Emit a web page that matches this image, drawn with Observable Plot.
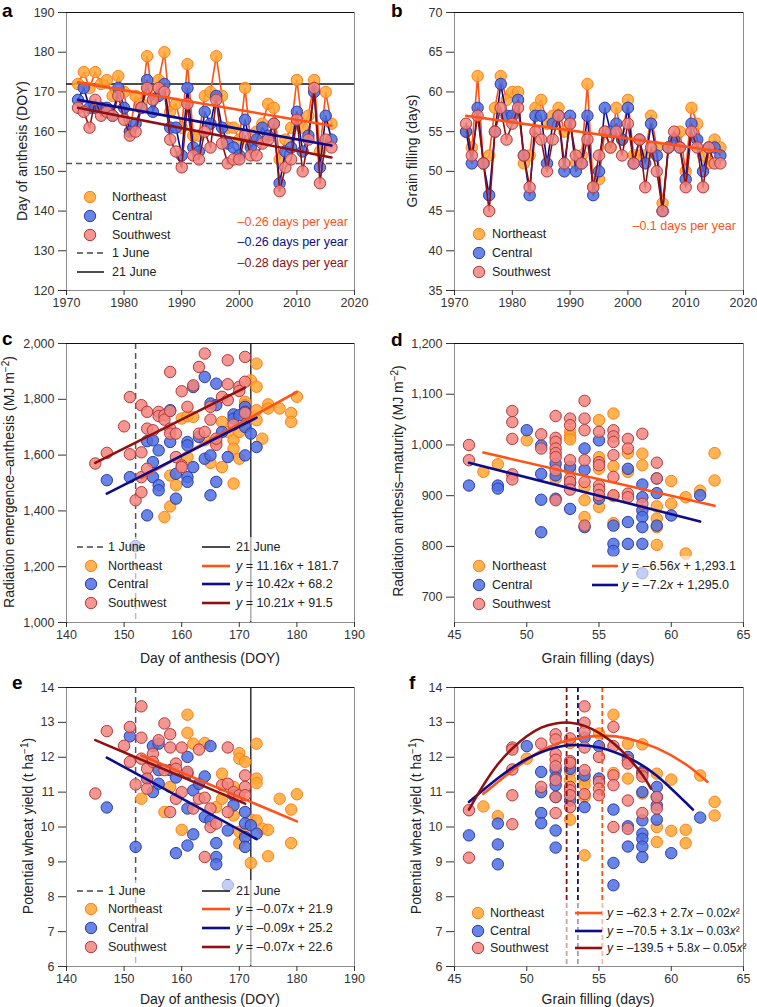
<!DOCTYPE html>
<html><head><meta charset="utf-8">
<script src="https://cdn.jsdelivr.net/npm/d3@7"></script>
<script src="https://cdn.jsdelivr.net/npm/@observablehq/plot@0.6"></script>
<style>
body{margin:0;background:#fff;}
#root{position:relative;width:757px;height:1007px;overflow:hidden;background:#fff;}
.letter{position:absolute;font-family:"Liberation Sans",Arial,sans-serif;font-weight:bold;font-size:19px;line-height:19px;color:#000;}
</style></head>
<body><div id="root"></div>
<script>
const FONT = '"Liberation Sans", Arial, Helvetica, sans-serif';
// ---------- data ----------
const regions = ["Northeast", "Central", "Southwest"];
const years = [1972,1973,1974,1975,1976,1977,1978,1979,1980,1981,1982,1983,1984,1985,1986,1987,1988,1989,1990,1991,1992,1993,1994,1995,1996,1997,1998,1999,2000,2001,2002,2003,2004,2005,2006,2007,2008,2009,2010,2011,2012,2013,2014,2015,2016];
const JUNE1 = 152, JUNE21 = 172;
// panel a: day of anthesis (DOY)
const anthNE = [172,175,171,175,172,173,169,174,170,160,169,167,179,168,173,180,165,167,161,177,159,159,169,170,179,169,161,161,158,171,157,160,162,167,166,153,158,161,173,161,164,173,155,170,162];
const anthCE = [168,171,166,166,166,166,164,171,166,160,162,166,173,165,169,172,161,161,154,171,156,155,165,162,169,161,157,156,154,163,156,158,161,159,162,147,155,156,165,155,159,170,151,164,158];
const anthSW = [166,165,161,168,164,165,164,169,163,159,160,166,171,168,171,170,158,155,151,167,154,153,160,156,168,157,152,153,153,159,154,154,157,158,162,145,151,153,163,150,158,171,147,158,156];
const trendA_NE = [[1972,172.4],[2016,161.5]];
const trendA_CE = [[1972,168.0],[2016,156.5]];
const trendA_SW = [[1972,166.0],[2016,153.5]];
const slopeA = ["\u20130.26 days per year","\u20130.26 days per year","\u20130.28 days per year"];
// panel b: grain filling (days)
const gfNE = [55,53,62,51,52,58,62,59,60,60,51,52,58,59,56,57,58,55,56,51,52,61,48,49,55,53,58,54,59,52,52,52,57,53,46,53,54,55,50,58,56,52,51,54,53];
const gfCE = [55,51,58,51,47,55,61,57,57,59,52,47,57,57,51,56,57,50,57,50,51,57,47,50,58,55,56,54,58,51,54,51,56,52,45,53,54,53,49,56,54,50,53,53,52];
const gfSW = [56,52,57,51,45,55,58,54,56,58,52,48,55,54,50,54,57,51,56,52,51,54,48,52,55,53,55,52,56,51,54,48,53,50,45,53,55,53,48,55,53,48,53,51,51];
const trendB_NE = [[1972,57.0],[2016,52.5]];
const slopeB = "\u20130.1 days per year";
// panel c: radiation emergence-anthesis vs anthesis DOY
const radEA_NE = [[157,1378],[158,1416],[158,1527],[159,1492],[160,1731],[161,1593],[161,1739],[162,1737],[164,1653],[165,1572],[166,1647],[167,1557],[167,1719],[168,1683],[169,1653],[169,1623],[169,1498],[170,1587],[170,1683],[171,1791],[171,1779],[171,1707],[172,1868],[172,1743],[173,1928],[173,1845],[173,1761],[173,1725],[174,1659],[175,1782],[175,1767],[177,1767],[179,1751],[179,1719],[180,1809]];
const radEA_CE = [[147,1510],[151,1521],[152,1274],[154,1384],[154,1650],[155,1653],[155,1575],[155,1521],[156,1617],[156,1492],[156,1474],[158,1761],[158,1647],[159,1533],[159,1444],[161,1647],[161,1635],[161,1521],[161,1504],[162,1844],[162,1557],[163,1665],[164,1880],[164,1587],[165,1599],[165,1456],[165,1785],[166,1856],[166,1779],[166,1504],[167,1683],[168,1593],[169,1746],[169,1731],[170,1743],[171,1773],[171,1755],[171,1701],[171,1599],[172,1677],[173,1629]];
const radEA_SW = [[145,1570],[147,1608],[150,1703],[151,1808],[151,1603],[152,1438],[153,1467],[153,1521],[153,1610],[153,1779],[154,1755],[154,1695],[154,1551],[155,1689],[156,1755],[156,1740],[157,1743],[157,1727],[158,1898],[158,1695],[158,1677],[158,1758],[159,1593],[159,1677],[160,1829],[160,1563],[160,1557],[161,1773],[162,1850],[163,1916],[163,1677],[164,1964],[164,1683],[165,1727],[165,1773],[166,1637],[166,1659],[167,1809],[168,1940],[168,1854],[168,1797],[169,1709],[170,1845],[170,1830],[171,1952],[171,1863],[171,1751]];
const trendC_NE = [[153,1518],[180,1827]];
const trendC_CE = [[147,1462],[173,1734]];
const trendC_SW = [[145,1572],[171,1842]];
const eqC = ["*y* = 11.16*x* + 181.7","*y* = 10.42*x* + 68.2","*y* = 10.21*x* + 91.5"];
// panel d: radiation anthesis-maturity vs grain filling
const radAM_NE = [[47,947],[48,962],[50,1009],[52,934],[53,1026],[53,1017],[53,1011],[53,950],[54,917],[54,891],[54,858],[55,1049],[55,976],[55,953],[55,878],[56,1062],[56,958],[56,899],[56,846],[57,984],[57,947],[58,983],[58,960],[59,879],[59,855],[59,838],[59,803],[60,929],[60,884],[61,897],[61,786],[62,910],[63,984],[63,930]];
const radAM_CE = [[46,920],[48,920],[48,914],[50,1029],[51,999],[51,943],[51,892],[51,828],[52,963],[52,940],[52,894],[53,957],[53,924],[53,874],[54,993],[54,951],[54,838],[55,1009],[55,894],[56,841],[56,805],[56,791],[57,953],[57,848],[57,805],[58,922],[58,897],[58,871],[58,858],[58,838],[58,805],[58,747],[59,905],[59,841],[59,934],[60,861],[62,901]];
const radAM_SW = [[46,1000],[46,970],[49,1067],[49,1045],[49,1012],[49,942],[49,932],[51,1021],[51,993],[52,1057],[52,1014],[52,1006],[52,993],[52,984],[52,976],[52,950],[52,891],[53,1052],[53,1039],[53,970],[53,934],[53,927],[53,912],[54,1087],[54,1052],[54,1029],[54,970],[54,927],[54,841],[55,1026],[55,966],[55,960],[55,920],[55,912],[55,901],[56,1029],[56,1017],[56,1006],[56,980],[56,937],[56,901],[57,1012],[57,993],[57,904],[57,897],[58,1022],[58,884],[59,965],[59,934]];
const trendD_NE = [[47,985],[63,880]];
const trendD_CE = [[46,965],[62,849]];
const eqD = ["*y* = \u20136.56*x* + 1,293.1","*y* = \u20137.2*x* + 1,295.0"];
// panel e: yield vs anthesis DOY
const yieldA_NE = [[153,10.81],[157,10.43],[158,11.15],[160,9.92],[161,13.22],[161,12.7],[162,12.39],[164,12.41],[166,10.57],[167,11.53],[167,10.81],[169,11.15],[169,10.33],[170,12.12],[170,11.96],[170,9.86],[170,9.54],[171,11.87],[171,9.86],[172,10.21],[172,8.97],[173,12.39],[173,11.39],[173,11.26],[173,10.19],[174,9.95],[175,9.92],[175,9.16],[177,10.81],[179,10.5],[179,9.54],[180,10.94]];
const yieldA_CE = [[147,10.56],[151,12.6],[152,9.43],[154,11.39],[155,12.32],[155,11.0],[156,12.39],[156,11.63],[156,11.24],[158,11.63],[159,11.42],[159,9.25],[161,12.01],[161,11.53],[161,10.53],[161,9.47],[162,11.05],[162,9.79],[163,11.24],[164,11.45],[164,10.29],[165,12.32],[165,10.19],[166,9.54],[166,9.14],[166,8.93],[168,9.9],[168,8.33],[169,10.91],[169,10.62],[171,10.43],[171,10.1],[171,9.71],[171,9.43],[172,10.05],[173,9.81]];
const yieldA_SW = [[145,10.96],[147,12.75],[150,12.33],[151,12.87],[151,11.87],[152,11.22],[153,13.46],[153,12.56],[153,11.96],[154,11.67],[154,11.39],[154,11.1],[155,12.1],[155,11.87],[156,12.49],[157,12.97],[157,11.63],[158,12.66],[158,12.28],[158,10.43],[159,11.82],[159,11.67],[159,10.81],[160,12.28],[160,11.0],[161,11.58],[162,10.53],[163,12.22],[163,10.81],[164,10.84],[164,9.14],[165,10.53],[165,10.0],[166,10.1],[167,11.2],[168,12.28],[168,11.24],[168,10.43],[169,11.0],[170,10.91],[171,11.48],[171,11.15],[171,10.91]];
const trendE_NE = [[153,12.05],[180,10.16]];
const trendE_CE = [[147,11.99],[173,9.65]];
const trendE_SW = [[145,12.49],[171,10.67]];
const eqE = ["*y* = \u20130.07*x* + 21.9","*y* = \u20130.09*x* + 25.2","*y* = \u20130.07*x* + 22.6"];
// panel f: yield vs grain filling
const yieldG_NE = [[47,10.59],[48,10.31],[50,11.96],[53,12.41],[53,11.58],[53,11.34],[53,10.21],[54,11.34],[54,11.2],[54,10.86],[54,9.19],[55,12.68],[56,13.22],[56,11.55],[57,12.39],[57,11.39],[58,12.37],[58,10.96],[59,11.53],[59,10.0],[59,9.57],[60,11.36],[60,9.89],[61,9.92],[61,9.54],[62,11.48],[63,10.72],[63,10.33]];
const yieldG_CE = [[46,9.76],[48,10.1],[48,9.5],[48,8.93],[50,12.32],[51,11.58],[51,11.0],[51,10.4],[51,10.11],[52,11.63],[52,11.42],[52,11.2],[52,10.86],[52,9.9],[52,9.41],[53,11.67],[53,10.76],[54,12.56],[54,11.48],[54,10.57],[55,12.32],[55,11.39],[56,10.5],[56,8.97],[56,8.33],[57,12.01],[57,10.02],[57,9.44],[58,11.58],[58,11.0],[58,10.19],[58,9.81],[58,9.66],[58,9.44],[58,9.14],[59,11.15],[59,10.86],[59,10.62],[59,10.21],[60,9.25],[62,10.27]];
const yieldG_SW = [[46,10.48],[46,9.12],[49,12.28],[49,12.22],[49,11.65],[49,10.91],[49,10.08],[51,12.39],[51,11.15],[52,12.66],[52,12.51],[52,12.09],[52,11.93],[52,11.74],[52,11.35],[52,10.86],[52,10.4],[53,12.54],[53,11.89],[53,11.84],[53,11.15],[53,11.05],[53,10.91],[53,10.57],[54,13.46],[54,12.99],[54,12.73],[54,12.28],[54,11.63],[54,10.94],[55,12.01],[55,11.29],[55,11.1],[55,10.91],[56,12.87],[56,12.32],[56,11.48],[56,11.2],[56,10.0],[57,11.91],[57,11.82],[57,10.76],[57,9.95],[58,11.53],[58,11.45],[58,10.4],[59,10.86],[59,10.53]];
const fitF_NE = [[47,10.95],[49,11.62],[51,12.18],[53,12.5],[55.2,12.62],[57,12.54],[59,12.26],[61,11.8],[62.5,11.3]];
const fitF_CE = [[46,10.72],[48,11.4],[50,11.95],[52,12.28],[53.5,12.35],[55,12.28],[57,11.99],[59,11.47],[61.5,10.5]];
const fitF_SW = [[46,10.5],[47,11.2],[48,11.8],[49,12.25],[50,12.6],[51,12.85],[52,12.97],[53,12.99],[54,12.9],[55,12.7],[56,12.4],[57,12.0],[58,11.5],[58.6,11.1]];
const optF = [55.23, 53.54, 52.76];
const eqF = ["*y* = \u201362.3 + 2.7*x* \u2013 0.02*x*\u00b2","*y* = \u201370.5 + 3.1*x* \u2013 0.03*x*\u00b2","*y* = \u2013139.5 + 5.8*x* \u2013 0.05*x*\u00b2"];

// ---------- styles ----------
const dotFill = {Northeast:"#FFA733", Central:"#4F6FE3", Southwest:"#F2857F"};
const dotStroke = {Northeast:"#FF7F1E", Central:"#2B3DA8", Southwest:"#B23A3A"};
const lineColor = {Northeast:"#FF5214", Central:"#0C0C8C", Southwest:"#8F1010"};
const R = 5.7;

const root = document.getElementById("root");
const toRows = (pairs) => pairs.map(([x,y]) => ({x, y}));
const yearRows = (arr) => years.map((yr,i) => ({x: yr, y: arr[i]}));

function dots(rows, reg){
  return Plot.dot(rows, {x:"x", y:"y", r:R, fill:dotFill[reg], fillOpacity:0.85, stroke:dotStroke[reg], strokeWidth:1});
}
function trend(pairs, reg, opts={}){
  return Plot.line(toRows(pairs), {x:"x", y:"y", stroke:lineColor[reg], strokeWidth:2.6, ...opts});
}

function makePanel({left, top, width, height, frame, xDomain, yDomain, xTicks, yTicks, xFormat, yFormat, marks}){
  const [fl, ft, fr, fb] = frame;
  const svg = Plot.plot({
    width, height,
    marginLeft: fl-left, marginTop: ft-top, marginRight: left+width-fr, marginBottom: top+height-fb,
    style: {fontFamily: FONT, fontSize: "12.5px", color: "#333", background: "none", overflow: "visible"},
    x: {type:"linear", domain: xDomain},
    y: {type:"linear", domain: yDomain},
    marks: [
      Plot.frame({stroke:"#8c8c8c", strokeWidth:1}),
      ...marks,
      Plot.ruleY([yDomain[1]], {stroke:"#111", strokeWidth:1}),
      Plot.axisX({ticks:xTicks, tickFormat:xFormat, tickSize:5, tickPadding:3, label:null}),
      Plot.axisY({ticks:yTicks, tickFormat:yFormat, tickSize:8, tickPadding:4, label:null})
    ]
  });
  svg.style.position = "absolute";
  svg.style.left = left + "px";
  svg.style.top = top + "px";
  root.appendChild(svg);
}
const plain = d => String(d);
const comma = d3.format(",");

// panel a
makePanel({left:0, top:0, width:378, height:320, frame:[66,12,354,290],
  xDomain:[1970,2020], yDomain:[120,190], xTicks:[1970,1980,1990,2000,2010,2020], yTicks:[120,130,140,150,160,170,180,190], xFormat:plain, yFormat:plain,
  marks:[
    Plot.ruleY([JUNE1], {stroke:"#555", strokeWidth:1.5, strokeDasharray:"6,4"}),
    Plot.ruleY([JUNE21], {stroke:"#111", strokeWidth:1.3}),
    ...[["Northeast",anthNE],["Central",anthCE],["Southwest",anthSW]].flatMap(([reg,arr]) => [
      Plot.line(yearRows(arr), {x:"x", y:"y", stroke:lineColor[reg], strokeWidth:1.6}),
      dots(yearRows(arr), reg)
    ]),
    trend(trendA_NE,"Northeast"), trend(trendA_CE,"Central"), trend(trendA_SW,"Southwest")
  ]});
// panel b
makePanel({left:378, top:0, width:379, height:320, frame:[454,12,743,290],
  xDomain:[1970,2020], yDomain:[35,70], xTicks:[1970,1980,1990,2000,2010,2020], yTicks:[35,40,45,50,55,60,65,70], xFormat:plain, yFormat:plain,
  marks:[
    ...[["Northeast",gfNE],["Central",gfCE],["Southwest",gfSW]].flatMap(([reg,arr]) => [
      Plot.line(yearRows(arr), {x:"x", y:"y", stroke:lineColor[reg], strokeWidth:1.6}),
      dots(yearRows(arr), reg)
    ]),
    trend(trendB_NE,"Northeast")
  ]});
// panel c
makePanel({left:0, top:330, width:378, height:320, frame:[66,343,354,622],
  xDomain:[140,190], yDomain:[1000,2000], xTicks:[140,150,160,170,180,190], yTicks:[1000,1200,1400,1600,1800,2000], xFormat:plain, yFormat:comma,
  marks:[
    Plot.ruleX([JUNE1], {stroke:"#555", strokeWidth:1.5, strokeDasharray:"6,4"}),
    Plot.ruleX([JUNE21], {stroke:"#111", strokeWidth:1.3}),
    dots(toRows(radEA_NE),"Northeast"), dots(toRows(radEA_CE),"Central"), dots(toRows(radEA_SW),"Southwest"),
    trend(trendC_NE,"Northeast"), trend(trendC_CE,"Central"), trend(trendC_SW,"Southwest")
  ]});
// panel d
makePanel({left:378, top:330, width:379, height:320, frame:[454,343,743,622],
  xDomain:[45,65], yDomain:[650,1200], xTicks:[45,50,55,60,65], yTicks:[700,800,900,1000,1100,1200], xFormat:plain, yFormat:comma,
  marks:[
    dots(toRows(radAM_NE),"Northeast"), dots(toRows(radAM_CE),"Central"), dots(toRows(radAM_SW),"Southwest"),
    trend(trendD_NE,"Northeast"), trend(trendD_CE,"Central")
  ]});
// panel e
makePanel({left:0, top:670, width:378, height:337, frame:[66,687,354,966],
  xDomain:[140,190], yDomain:[6,14], xTicks:[140,150,160,170,180,190], yTicks:[6,7,8,9,10,11,12,13,14], xFormat:plain, yFormat:plain,
  marks:[
    Plot.ruleX([JUNE1], {stroke:"#555", strokeWidth:1.5, strokeDasharray:"6,4"}),
    Plot.ruleX([JUNE21], {stroke:"#111", strokeWidth:1.3}),
    dots(toRows(yieldA_NE),"Northeast"), dots(toRows(yieldA_CE),"Central"), dots(toRows(yieldA_SW),"Southwest"),
    trend(trendE_NE,"Northeast"), trend(trendE_CE,"Central"), trend(trendE_SW,"Southwest")
  ]});
// panel f
makePanel({left:378, top:670, width:379, height:337, frame:[454,687,743,966],
  xDomain:[45,65], yDomain:[6,14], xTicks:[45,50,55,60,65], yTicks:[6,7,8,9,10,11,12,13,14], xFormat:plain, yFormat:plain,
  marks:[
    dots(toRows(yieldG_NE),"Northeast"), dots(toRows(yieldG_CE),"Central"), dots(toRows(yieldG_SW),"Southwest"),
    ...regions.map((reg,i) => Plot.ruleX([optF[i]], {stroke:lineColor[reg], strokeWidth:1.8, strokeDasharray:"5,3"})),
    trend(fitF_NE,"Northeast",{curve:"natural"}), trend(fitF_CE,"Central",{curve:"natural"}), trend(fitF_SW,"Southwest",{curve:"natural"})
  ]});

// ---------- overlay: legends, labels ----------
const ov = d3.select(root).append("svg").attr("width",757).attr("height",1007)
  .style("position","absolute").style("left","0px").style("top","0px").style("font-family",FONT);

function bg(x,y,w,h){ ov.append("rect").attr("x",x).attr("y",y).attr("width",w).attr("height",h).attr("fill","#fff").attr("fill-opacity",0.6); }
function richText(x, y, str, opts={}){
  const t = ov.append("text").attr("x",x).attr("y",y).attr("dy","0.35em")
    .attr("font-size", opts.size || 12.5).attr("fill", opts.fill || "#222")
    .attr("text-anchor", opts.anchor || "start");
  str.split("*").forEach((seg,i) => { if (seg) t.append("tspan").attr("font-style", i%2 ? "italic" : "normal").text(seg); });
  return t;
}
function dotItem(cx, cy, reg, tx){
  ov.append("circle").attr("cx",cx).attr("cy",cy).attr("r",R).attr("fill",dotFill[reg]).attr("fill-opacity",0.85).attr("stroke",dotStroke[reg]).attr("stroke-width",1);
  richText(tx, cy, reg);
}
function lineItem(x1, x2, y, color, width, dash, label, tx, size){
  const l = ov.append("line").attr("x1",x1).attr("x2",x2).attr("y1",y).attr("y2",y).attr("stroke",color).attr("stroke-width",width);
  if (dash) l.attr("stroke-dasharray",dash);
  richText(tx, y, label, {size});
}
function yLabel(cx, cy, parts){
  const t = ov.append("text").attr("transform",`translate(${cx},${cy}) rotate(-90)`).attr("text-anchor","middle").attr("dy","0.35em").attr("font-size",14).attr("fill","#222");
  parts.forEach(p => { if (typeof p === "string") t.append("tspan").text(p); else t.append("tspan").attr("dy",p.dy).attr("font-size",p.size||14).text(p.t); });
}
function xLabel(cx, cy, s){ ov.append("text").attr("x",cx).attr("y",cy).attr("dy","0.35em").attr("text-anchor","middle").attr("font-size",14).attr("fill","#222").text(s); }

// panel a legend
regions.forEach((reg,i) => dotItem(90, [197,216,235][i], reg, 112));
lineItem(77,104,253,"#444",1.5,"6,4","1 June",112);
lineItem(77,104,272,"#111",1.5,null,"21 June",112);
regions.forEach((reg,i) => richText(348, [222,242,263][i], slopeA[i], {anchor:"end", fill:lineColor[reg]}));
// panel b legend
regions.forEach((reg,i) => dotItem(479, [234,253,272][i], reg, 492));
richText(736, 226, slopeB, {anchor:"end", fill:lineColor.Northeast});
// panel c legend
bg(74,537,258,84);
lineItem(77,103,547,"#444",1.5,"6,4","1 June",108);
lineItem(202,230,547,"#111",1.5,null,"21 June",236);
regions.forEach((reg,i) => { const y=[566,584,603][i]; dotItem(91,y,reg,108); lineItem(202,230,y,lineColor[reg],2.6,null,eqC[i],236); });
// panel d legend
bg(470,556,272,66);
regions.forEach((reg,i) => dotItem(479, [566,585,604][i], reg, 492));
lineItem(592,618,566,lineColor.Northeast,2.6,null,eqD[0],622);
lineItem(592,618,585,lineColor.Central,2.6,null,eqD[1],622);
// panel e legend
bg(74,880,258,85);
lineItem(77,103,891,"#444",1.5,"6,4","1 June",108);
lineItem(202,230,891,"#111",1.5,null,"21 June",236);
regions.forEach((reg,i) => { const y=[909,928,947][i]; dotItem(91,y,reg,108); lineItem(202,230,y,lineColor[reg],2.6,null,eqE[i],236); });
// panel f legend
bg(466,903,276,62);
regions.forEach((reg,i) => { const y=[913,931,948][i]; dotItem(478,y,reg,490); lineItem(575,602,y,lineColor[reg],2.6,null,eqF[i],607,12); });

// axis labels
yLabel(22,151,["Day of anthesis (DOY)"]);
yLabel(412,151,["Grain filling (days)"]);
yLabel(9,482,["Radiation emergence\u2013anthesis (MJ m",{t:"\u22122",dy:-5,size:10},{t:")",dy:5}]);
yLabel(398,481,["Radiation anthesis\u2013maturity (MJ m",{t:"\u22122",dy:-5,size:10},{t:")",dy:5}]);
yLabel(28,826,["Potential wheat yield (t ha",{t:"\u22121",dy:-5,size:10},{t:")",dy:5}]);
yLabel(416,826,["Potential wheat yield (t ha",{t:"\u22121",dy:-5,size:10},{t:")",dy:5}]);
xLabel(210,658,"Day of anthesis (DOY)");
xLabel(598,658,"Grain filling (days)");
xLabel(210,999,"Day of anthesis (DOY)");
xLabel(598,999,"Grain filling (days)");

// panel letters
[["a",2,1],["b",391,1],["c",2,329],["d",391,330],["e",12,673],["f",409,673]].forEach(([s,x,y]) => {
  const d = document.createElement("div"); d.className="letter"; d.textContent=s; d.style.left=x+"px"; d.style.top=y+"px"; root.appendChild(d);
});
</script>
</body></html>
